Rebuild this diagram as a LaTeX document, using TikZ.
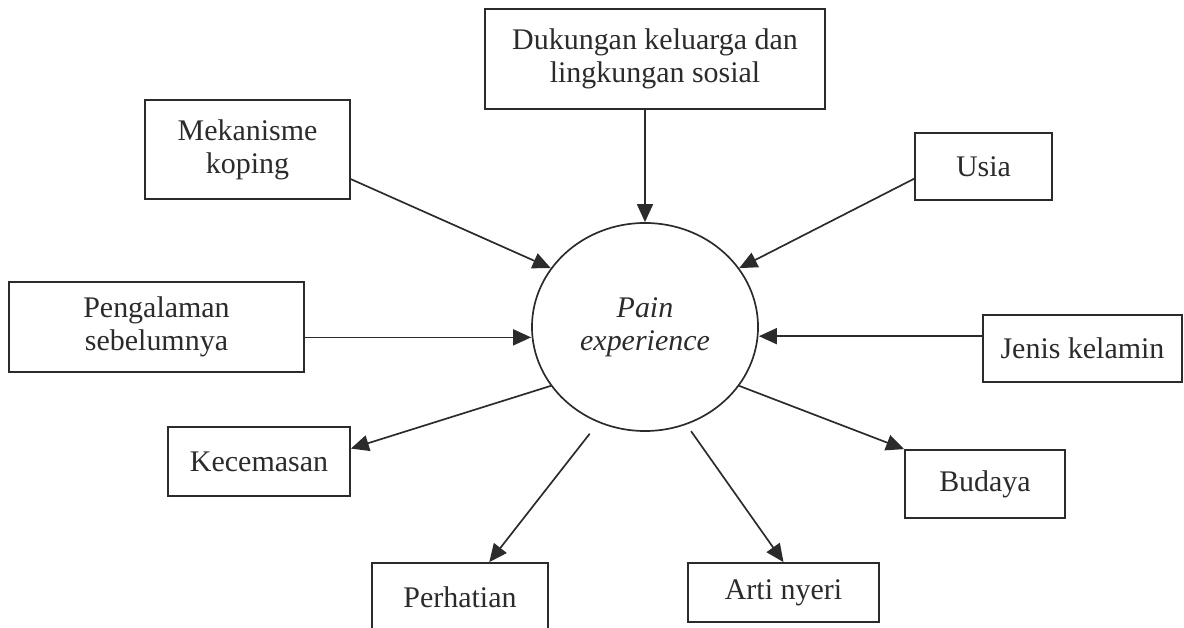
\documentclass[tikz,border=0pt]{standalone}
\usepackage{fontspec}
\setmainfont{Liberation Serif}
\usetikzlibrary{arrows.meta,shapes.geometric}
\definecolor{ink}{HTML}{2B2B2B}

\begin{document}
\begin{tikzpicture}[x=0.025cm, y=-0.025cm,
    every node/.style={draw=ink, text=ink, line width=1.2pt, align=center, inner sep=0pt,
        font=\fontsize{21.3}{23.6}\selectfont},
    factor/.style={rectangle},
    arr/.style={draw=ink, line width=1.2pt, -{Triangle[length=0.45cm, width=0.4cm]}}]
    \useasboundingbox (0,0) rectangle (1184,628);

    \node[ellipse, minimum width=5.65cm, minimum height=5.2cm] (pain) at (645,327) {\textit{Pain}\\\textit{experience}};

    \node[factor, minimum width=8.5cm, minimum height=2.5cm] (duk) at (655,59) {Dukungan keluarga dan\\lingkungan sosial};
    \node[factor, minimum width=5.125cm, minimum height=2.475cm] (mek) at (247.5,149.5) {Mekanisme\\koping};
    \node[factor, minimum width=3.425cm, minimum height=1.675cm] (usia) at (983.5,166.5) {Usia};
    \node[factor, minimum width=7.375cm, minimum height=2.25cm] (peng) at (156.5,327) {Pengalaman\\sebelumnya};
    \node[factor, minimum width=4.975cm, minimum height=1.675cm] (jenis) at (1082.5,348.5) {Jenis kelamin};
    \node[factor, minimum width=4.55cm, minimum height=1.725cm] (kec) at (259,461.5) {Kecemasan};
    \node[factor, minimum width=4cm, minimum height=1.7cm] (bud) at (985,484) {Budaya};
    \node[factor, minimum width=4.4cm, minimum height=1.7cm] (perh) at (460,597) {Perhatian};
    \node[factor, minimum width=4.775cm, minimum height=1.475cm] (arti) at (783.5,592.5) {Arti nyeri};

    % factors into the experience
    \draw[arr] (duk.south -| pain.north) -- (pain.north);
    \draw[arr] (mek.-16) -- (pain.148);
    \draw[arr] (usia.190) -- (pain.32);
    \draw[arr] (peng.-4) -- (peng.-4 -| pain.west);
    \draw[arr] (jenis.173) -- (jenis.173 -| pain.east);

    % experience out to factors
    \draw[arr] (pain.212) -- (kec.8);
    \draw[arr] (pain.-32) -- (bud.north west);
    \draw[arr, shorten <=0.35cm] (pain.244) -- (perh.50);
    \draw[arr, shorten <=0.2cm] (pain.293) -- (arti.north);
\end{tikzpicture}
\end{document}
